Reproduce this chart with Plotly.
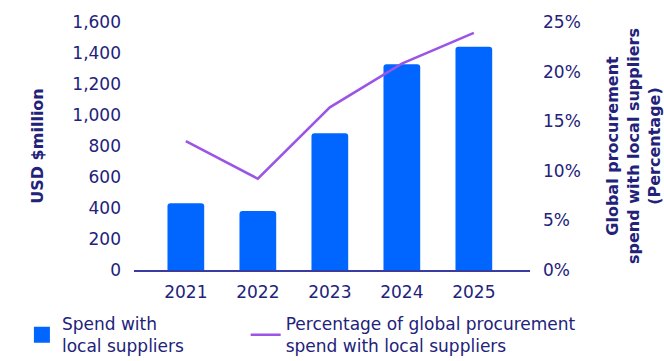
import plotly.graph_objects as go

years = ["2021", "2022", "2023", "2024", "2025"]
spend = [430, 380, 882, 1327, 1441]
pct = [13.0, 9.2, 16.4, 20.8, 23.9]

navy = "#22227a"
blue = "#0066ff"
purple = "#9b55e6"
font = "DejaVu Sans"
fs = 17

fig = go.Figure()
fig.add_trace(go.Bar(x=years, y=spend, name="Spend with<br>local suppliers",
                     marker=dict(color=blue, line=dict(width=0)), width=0.51,
                     showlegend=False))
# legend entry for bars (square swatch)
fig.add_trace(go.Scatter(x=[None], y=[None], name="Spend with<br>local suppliers",
                         mode="markers", marker=dict(symbol="square", size=16, color=blue),
                         legend="legend"))
fig.add_trace(go.Scatter(x=years, y=pct, name="Percentage of global procurement<br>spend with local suppliers",
                         mode="lines", line=dict(color=purple, width=2.5), yaxis="y2",
                         legend="legend2"))

leg_common = dict(orientation="h", xanchor="left", yanchor="top", xref="container", yref="container",
                  font=dict(size=fs, color=navy, family=font), itemwidth=30, bgcolor="rgba(0,0,0,0)")

fig.update_layout(
    width=664, height=361,
    margin=dict(l=134, r=134, t=22, b=91, autoexpand=False),
    paper_bgcolor="white", plot_bgcolor="white",
    font=dict(family=font, color=navy, size=fs),
    barcornerradius=3,
    showlegend=True,
    legend=dict(x=0.033, y=0.152, **leg_common),
    legend2=dict(x=0.370, y=0.152, **leg_common),
    xaxis=dict(type="category", range=[-0.72, 4.78], showgrid=False,
               showline=True, linecolor="#3a3aa0", linewidth=1.5,
               ticks="", ticklabelstandoff=6, tickfont=dict(size=fs, color=navy)),
    yaxis=dict(range=[0, 1600], dtick=200, tickformat=",", showgrid=False,
               zeroline=False, showline=False, ticks="", ticklabelstandoff=12,
               tickfont=dict(size=fs, color=navy),
               title=dict(text="<b>USD $million</b>", font=dict(size=16, color=navy), standoff=24)),
    yaxis2=dict(range=[0, 25], dtick=5, ticksuffix="%", overlaying="y", side="right",
                showgrid=False, zeroline=False, showline=False, ticks="", ticklabelstandoff=12,
                tickfont=dict(size=fs, color=navy),
                title=dict(text="<b>Global procurement<br>spend with local suppliers<br>(Percentage)</b>",
                           font=dict(size=16, color=navy), standoff=28)),
)

fig.write_html("out.html")
